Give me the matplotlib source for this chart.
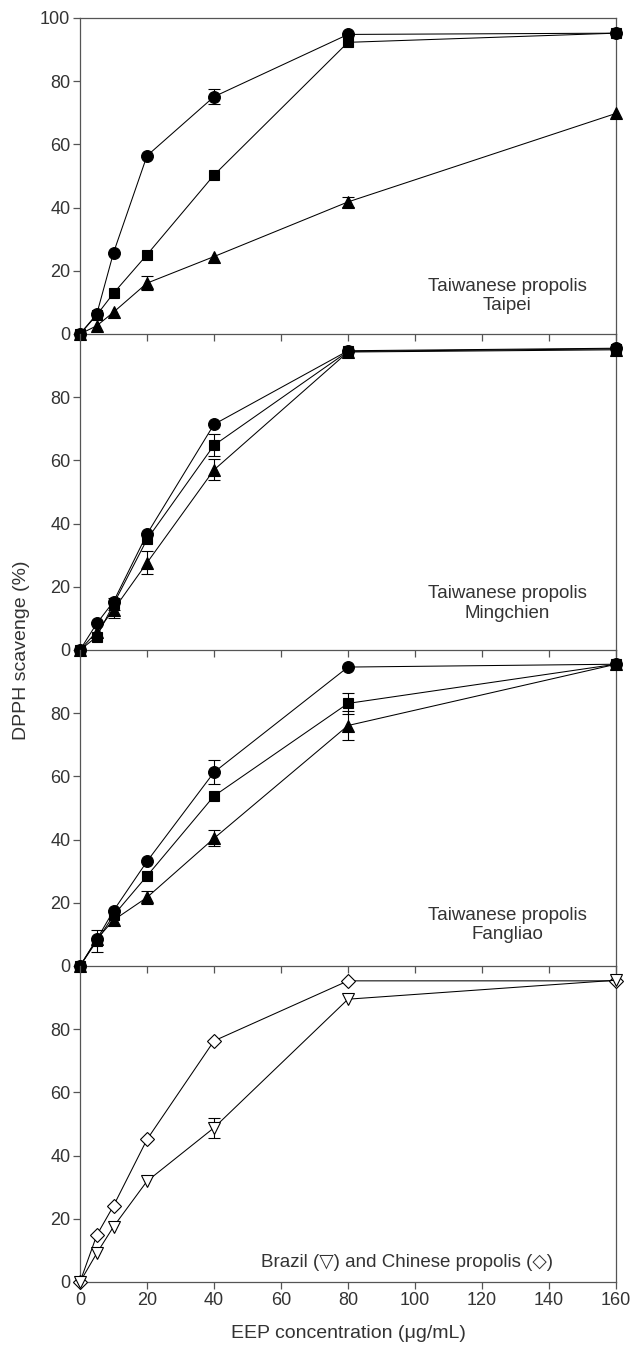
import numpy as np
import matplotlib
matplotlib.use("Agg")
import matplotlib.pyplot as plt

plt.rcParams['font.family'] = ['Liberation Sans', 'DejaVu Sans']

# EEP concentration (ug/mL)
conc = [0, 5, 10, 20, 40, 80, 160]

# Taipei
taipei_circle = [0, 6.3, 25.7, 56.4, 75.1, 94.8, 95.2]
taipei_circle_err = [0, 0, 0, 0, 2.4, 0, 0]
taipei_square = [0, 6.0, 12.9, 25.1, 50.3, 92.3, 95.2]
taipei_square_err = [0, 0, 0, 0, 0, 0, 0]
taipei_tri = [0, 2.6, 6.9, 16.1, 24.5, 41.8, 69.8]
taipei_tri_err = [0, 0, 0, 2.1, 0, 1.6, 0]

# Mingchien
ming_circle = [0, 8.4, 15.3, 36.7, 71.4, 94.7, 95.5]
ming_circle_err = [0, 0, 0, 0, 0, 0, 0]
ming_square = [0, 4.2, 14.5, 35.0, 64.8, 94.5, 95.3]
ming_square_err = [0, 0, 2.0, 0, 3.5, 0, 0]
ming_tri = [0, 5.8, 12.7, 27.6, 57.0, 94.3, 95.0]
ming_tri_err = [0, 0, 2.6, 3.6, 3.3, 0, 0]

# Fangliao
fang_circle = [0, 8.4, 17.5, 33.1, 61.3, 94.6, 95.5]
fang_circle_err = [0, 0, 0, 0, 3.8, 0, 0]
fang_square = [0, 7.9, 16.0, 28.5, 53.8, 83.1, 95.5]
fang_square_err = [0, 3.5, 0, 0, 0, 3.2, 0]
fang_tri = [0, 8.5, 14.5, 21.7, 40.4, 76.1, 95.5]
fang_tri_err = [0, 0, 0, 2.0, 2.5, 4.6, 0]

# Brazil and Chinese
brazil = [0, 9.1, 17.5, 31.9, 48.8, 89.5, 95.5]
brazil_err = [0, 0, 0, 0, 3.2, 0, 0]
chinese = [0, 14.8, 24.1, 45.1, 76.3, 95.3, 95.3]
chinese_err = [0, 0, 0, 0, 0, 0, 0]

labels = ["Taiwanese propolis\nTaipei", "Taiwanese propolis\nMingchien",
          "Taiwanese propolis\nFangliao", "Brazil (\u25bd) and Chinese propolis (\u25c7)"]

W, H = 636, 1347
fig = plt.figure(figsize=(W / 100, H / 100), dpi=100)

left, right = 80, 616
tops = [18, 334, 650, 966]
ph = 316
gray = '#555555'
tcol = '#333333'

panels = [
    [(taipei_circle, taipei_circle_err, 'o', 8.5, 'k'),
     (taipei_square, taipei_square_err, 's', 7.5, 'k'),
     (taipei_tri, taipei_tri_err, '^', 8.5, 'k')],
    [(ming_circle, ming_circle_err, 'o', 8.5, 'k'),
     (ming_square, ming_square_err, 's', 7.5, 'k'),
     (ming_tri, ming_tri_err, '^', 8.5, 'k')],
    [(fang_circle, fang_circle_err, 'o', 8.5, 'k'),
     (fang_square, fang_square_err, 's', 7.5, 'k'),
     (fang_tri, fang_tri_err, '^', 8.5, 'k')],
    [(chinese, chinese_err, 'D', 7.5, 'w'),
     (brazil, brazil_err, 'v', 8.5, 'w')],
]
text_pos = [(0.797, 0.12), (0.797, 0.147), (0.797, 0.13), (0.61, 0.063)]

for i, top in enumerate(tops):
    ax = fig.add_axes([left / W, 1 - (top + ph) / H, (right - left) / W, ph / H])
    ax.patch.set_alpha(0)
    for y, err, mk, ms, fc in panels[i]:
        y = np.array(y)
        err = np.array(err)
        m = err > 0
        if m.any():
            ax.errorbar(np.array(conc)[m], y[m], yerr=err[m], fmt='none',
                        ecolor='k', elinewidth=0.8, capsize=4, capthick=0.8,
                        clip_on=False, zorder=2)
        ax.plot(conc, y, color='k', lw=0.75, marker=mk, ms=ms, mfc=fc,
                mec='k', mew=0.8, clip_on=False, zorder=3)
    ax.set_xlim(0, 160)
    ax.set_ylim(0, 100)
    ax.set_xticks(np.arange(0, 161, 20))
    if i == 0:
        ax.set_yticks(np.arange(0, 101, 20))
    else:
        ax.set_yticks(np.arange(0, 81, 20))
    if i < 3:
        ax.set_xticklabels([])
    for s in ax.spines.values():
        s.set_color(gray)
        s.set_linewidth(0.9)
    if i > 0:
        ax.spines['top'].set_visible(False)
    ax.tick_params(direction='out', length=5, width=0.9, color=gray,
                   labelsize=13, labelcolor=tcol, pad=2)
    ax.text(text_pos[i][0], text_pos[i][1], labels[i], transform=ax.transAxes,
            ha='center', va='center', fontsize=13.5, color=tcol, linespacing=1.2)

fig.text((left + right) / 2 / W, 1 - 1334 / H, 'EEP concentration (\u03bcg/mL)',
         ha='center', va='center', fontsize=14, color=tcol)
fig.text(22 / W, 1 - 650 / H, 'DPPH scavenge (%)', rotation=90,
         ha='center', va='center', fontsize=14, color=tcol)

fig.savefig('out.png', dpi=100)
